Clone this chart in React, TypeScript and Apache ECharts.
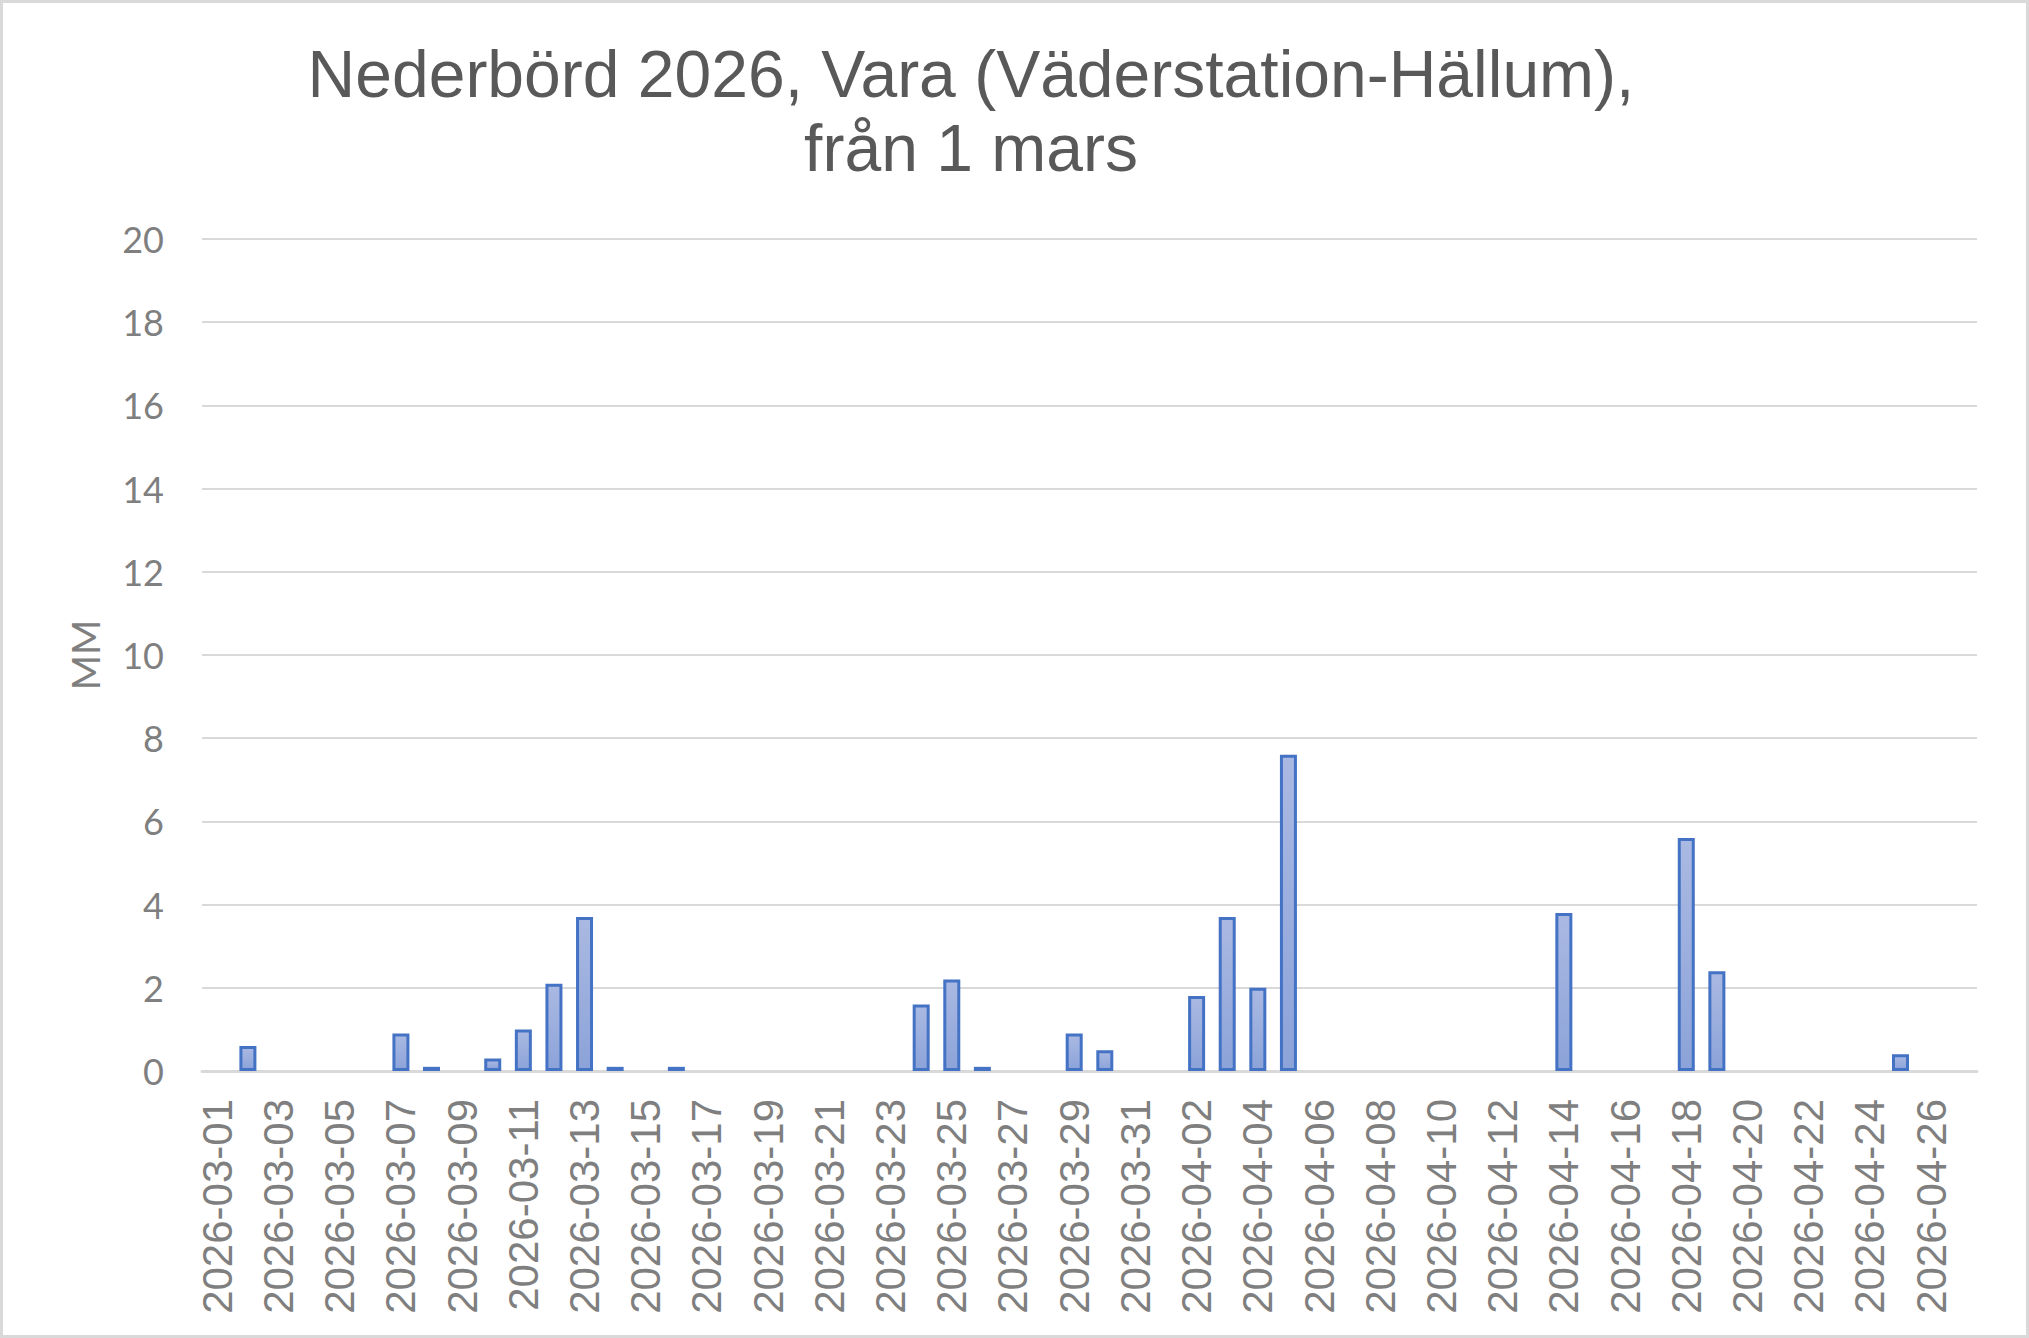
import { useEffect, useRef } from 'react';
import * as echarts from 'echarts';

const titleLines = ['Nederbörd 2026, Vara (Väderstation-Hällum),', 'från 1 mars'];
const yAxisName = 'MM';

const days = [
  '2026-03-01', '2026-03-02', '2026-03-03', '2026-03-04', '2026-03-05', '2026-03-06',
  '2026-03-07', '2026-03-08', '2026-03-09', '2026-03-10', '2026-03-11', '2026-03-12',
  '2026-03-13', '2026-03-14', '2026-03-15', '2026-03-16', '2026-03-17', '2026-03-18',
  '2026-03-19', '2026-03-20', '2026-03-21', '2026-03-22', '2026-03-23', '2026-03-24',
  '2026-03-25', '2026-03-26', '2026-03-27', '2026-03-28', '2026-03-29', '2026-03-30',
  '2026-03-31', '2026-04-01', '2026-04-02', '2026-04-03', '2026-04-04', '2026-04-05',
  '2026-04-06', '2026-04-07', '2026-04-08', '2026-04-09', '2026-04-10', '2026-04-11',
  '2026-04-12', '2026-04-13', '2026-04-14', '2026-04-15', '2026-04-16', '2026-04-17',
  '2026-04-18', '2026-04-19', '2026-04-20', '2026-04-21', '2026-04-22', '2026-04-23',
  '2026-04-24', '2026-04-25', '2026-04-26', '2026-04-27',
];

// mm per dag, mars
const marchRain = [
  0, 0.6, 0, 0, 0, 0, 0.9, 0.1, 0, 0.3, 1.0, 2.1, 3.7, 0.1, 0, 0.1,
  0, 0, 0, 0, 0, 0, 0, 1.6, 2.2, 0.1, 0, 0, 0.9, 0.5, 0,
];
// mm per dag, april
const aprilRain = [
  0, 1.8, 3.7, 2.0, 7.6, 0, 0, 0, 0, 0, 0, 0, 0, 3.8, 0, 0, 0, 5.6, 2.4,
  0, 0, 0, 0, 0, 0.4, 0, 0,
];

const yMin = 0;
const yMax = 20;
const yStep = 2;

const GRAY = '#7f7f7f';

export default function App() {
  const ref = useRef<HTMLDivElement>(null);

  useEffect(() => {
    if (!ref.current) return;
    const chart = echarts.init(ref.current, undefined, { renderer: 'svg' });
    const rain = [...marchRain, ...aprilRain].map((v) => (v === 0 ? null : v));

    chart.setOption({
      animation: false,
      backgroundColor: '#ffffff',
      graphic: [
        {
          type: 'rect',
          shape: { x: 1.5, y: 1.5, width: 2026, height: 1335 },
          style: { fill: 'none', stroke: '#d9d9d9', lineWidth: 3 },
          silent: true,
        },
        ...titleLines.map((t, i) => ({
          type: 'text',
          x: 971,
          y: 74 + i * 74,
          style: {
            text: t,
            fill: '#595959',
            font: '66px "Liberation Sans", Arial, sans-serif',
            textAlign: 'center',
            textVerticalAlign: 'middle',
          },
        })),
      ],
      grid: { left: 202, right: 52, top: 239, bottom: 267 },
      xAxis: {
        type: 'category',
        data: days,
        axisTick: { show: false },
        axisLine: { lineStyle: { color: '#d9d9d9', width: 3 } },
        axisLabel: {
          interval: 1,
          rotate: 90,
          margin: 28,
          color: GRAY,
          fontSize: 42,
          fontFamily: '"Liberation Sans", Arial, sans-serif',
        },
      },
      yAxis: {
        type: 'value',
        min: yMin,
        max: yMax,
        interval: yStep,
        name: yAxisName,
        nameLocation: 'middle',
        nameRotate: 90,
        nameGap: 98,
        nameTextStyle: { color: GRAY, fontSize: 38, fontFamily: 'Lato, "Open Sans", sans-serif' },
        axisLine: { show: false },
        axisTick: { show: false },
        axisLabel: {
          margin: 38,
          color: GRAY,
          fontSize: 36,
          fontFamily: 'Lato, "Open Sans", sans-serif',
        },
        splitLine: { lineStyle: { color: '#d9d9d9', width: 2 } },
      },
      series: [
        {
          type: 'bar',
          data: rain,
          barWidth: 17,
          itemStyle: {
            color: new echarts.graphic.LinearGradient(0, 0, 0, 1, [
              { offset: 0, color: '#aab9e2' },
              { offset: 1, color: '#8ca3d9' },
            ]),
            borderColor: '#4472c4',
            borderWidth: 3,
          },
        },
      ],
    });

    return () => {
      chart.dispose();
    };
  }, []);

  return (
    <div
      ref={ref}
      style={{ position: 'absolute', left: 0, top: 0, width: 2029, height: 1338 }}
    />
  );
}
